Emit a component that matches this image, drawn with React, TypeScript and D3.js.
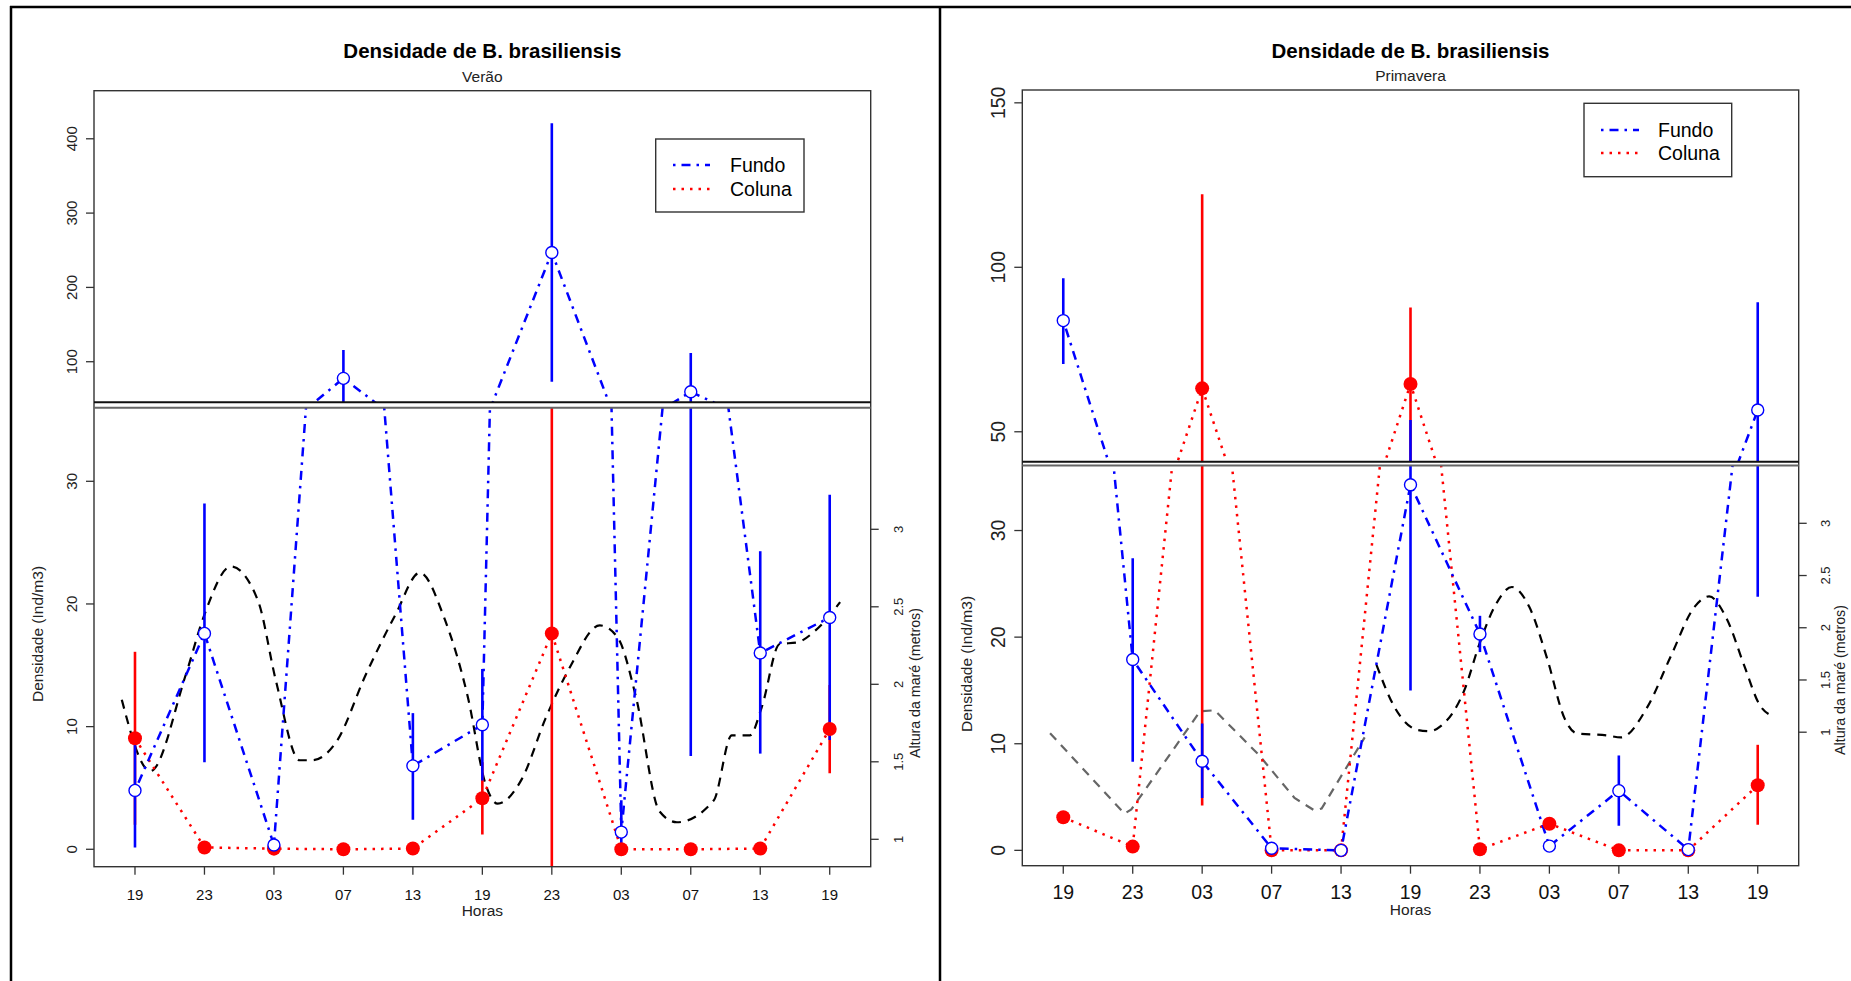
import React from 'react';
import * as d3 from 'd3';

// ---------- data ----------
const hourLabels = ['19', '23', '03', '07', '13', '19', '23', '03', '07', '13', '19'];

// Verão
const veraoFundo = [4.8, 17.6, 0.35, 77.6, 6.8, 10.15, 247, 1.4, 59.6, 16.0, 18.9];
const veraoFundoLo = [0.15, 7.1, 0.35, 39.6, 2.4, 5.6, 73, 0.0, 7.6, 7.8, 8.9];
const veraoFundoHi = [9.4, 28.2, 0.35, 115.7, 11.1, 14.7, 421, 4.0, 111.6, 24.3, 28.9];
const veraoColuna = [9.05, 0.15, 0.05, 0.0, 0.06, 4.16, 17.6, 0.0, 0.0, 0.06, 9.8];
const veraoColunaLo = [2.0, 0.15, 0.05, 0.0, 0.06, 1.2, -7.5, 0.0, 0.0, 0.06, 6.2];
const veraoColunaHi = [16.1, 0.15, 0.05, 0.0, 0.06, 7.1, 42.7, 0.0, 0.0, 0.06, 13.4];
const veraoTidePos = [0.81, 1.22, 1.73, 2.0, 2.38, 2.77, 3.03, 3.37, 3.55, 3.9, 4.32, 4.75, 5.1, 5.45, 5.79, 6.05, 6.22, 6.57, 6.91, 7.26, 7.69, 7.95, 8.21, 8.55, 8.8, 9.33, 9.59, 9.85, 10.02, 10.28, 10.53, 10.8, 11.15];
const veraoTideH = [1.9, 1.44, 2.06, 2.45, 2.76, 2.54, 2.02, 1.51, 1.51, 1.63, 2.06, 2.45, 2.72, 2.43, 1.92, 1.35, 1.23, 1.39, 1.78, 2.11, 2.38, 2.3, 1.92, 1.18, 1.11, 1.25, 1.67, 1.67, 1.85, 2.26, 2.27, 2.35, 2.53];

// Primavera
const primFundo = [83.8, 17.9, 8.36, 0.2, 0.0, 34.3, 20.3, 0.4, 5.6, 0.07, 56.6];
const primFundoLo = [70.6, 8.3, 4.9, 0.2, 0.0, 15.0, 18.6, 0.4, 2.3, 0.07, 23.8];
const primFundoHi = [96.7, 27.4, 11.9, 0.2, 0.0, 53.6, 22.0, 0.4, 8.9, 0.07, 89.4];
const primColuna = [3.1, 0.35, 63.2, 0.0, 0.0, 64.5, 0.1, 2.5, 0.0, 0.0, 6.1];
const primColunaLo = [3.1, 0.35, 4.2, 0.0, 0.0, 41.2, 0.1, 2.5, 0.0, 0.0, 2.4];
const primColunaHi = [3.1, 0.35, 122.2, 0.0, 0.0, 87.8, 0.1, 2.5, 0.0, 0.0, 9.9];
const primTideGreyPos = [0.81, 1.88, 1.98, 2.97, 3.18, 3.82, 4.33, 4.62, 4.72, 5.34];
const primTideGreyH = [0.99, 0.22, 0.26, 1.2, 1.21, 0.78, 0.37, 0.25, 0.27, 0.95];
const primTideBlackPos = [5.51, 5.77, 6.11, 6.28, 6.44, 6.78, 6.99, 7.21, 7.46, 7.71, 7.97, 8.22, 8.39, 8.82, 9.03, 9.41, 9.75, 10.09, 10.3, 10.55, 10.81, 11.02, 11.23];
const primTideBlackH = [1.645, 1.24, 1.02, 1.01, 1.06, 1.41, 1.84, 2.2, 2.39, 2.2, 1.7, 1.13, 0.99, 0.97, 0.95, 1.24, 1.73, 2.2, 2.3, 2.09, 1.63, 1.27, 1.15];

const lowerTicks = [0, 10, 20, 30];
const veraoUpperTicks = [100, 200, 300, 400];
const primUpperTicks = [50, 100, 150];
const tideTicks = [1, 1.5, 2, 2.5, 3];
const tideTickLabels = ['1', '1.5', '2', '2.5', '3'];

// ---------- layout ----------
const FONT = 'Liberation Sans, Arial, Helvetica, sans-serif';
const BLUE = '#0000ff';
const RED = '#ff0000';

type Tide = { pos: number[]; h: number[]; color: string; smooth: boolean };
type Cfg = {
  id: string; title: string; sub: string;
  fundo: number[]; fundoLo: number[]; fundoHi: number[];
  coluna: number[]; colunaLo: number[]; colunaHi: number[];
  tides: Tide[];
  left: number; right: number; top: number; bottom: number;
  loDomain: [number, number]; loTop: number;
  hiDomain: [number, number]; hiBottom: number;
  tideRange: [number, number];
  upperTicks: number[];
  legend: { x: number; y: number; w: number; h: number; y1: number; y2: number; lx1: number; lx2: number; tx: number };
  titleBase: number; subBase: number; xlabBase: number; tickBase: number; tickFont: number;
  yTickX: number; yTickFont: number; ylabX: number; ylabY: number; rTickX: number; rlabX: number; rlabY: number;
};

const panels: Cfg[] = [
  {
    id: 'verao', title: 'Densidade de B. brasiliensis', sub: 'Verão',
    fundo: veraoFundo, fundoLo: veraoFundoLo, fundoHi: veraoFundoHi,
    coluna: veraoColuna, colunaLo: veraoColunaLo, colunaHi: veraoColunaHi,
    tides: [{ pos: veraoTidePos, h: veraoTideH, color: '#000', smooth: true }],
    left: 94, right: 870.7, top: 90.7, bottom: 866.7,
    loDomain: [-1.42, 36.0], loTop: 407.7,
    hiDomain: [45.4, 464.7], hiBottom: 402.3,
    tideRange: [839.3, 529.3],
    upperTicks: veraoUpperTicks,
    legend: { x: 655.7, y: 139, w: 148.3, h: 73, y1: 165, y2: 189, lx1: 673, lx2: 710, tx: 730 },
    titleBase: 58, subBase: 81.5, xlabBase: 916, tickBase: 900, tickFont: 15,
    yTickX: 71, yTickFont: 15, ylabX: 37, ylabY: 634, rTickX: 898, rlabX: 915, rlabY: 683,
  },
  {
    id: 'prim', title: 'Densidade de B. brasiliensis', sub: 'Primavera',
    fundo: primFundo, fundoLo: primFundoLo, fundoHi: primFundoHi,
    coluna: primColuna, colunaLo: primColunaLo, colunaHi: primColunaHi,
    tides: [
      { pos: primTideGreyPos, h: primTideGreyH, color: '#666', smooth: false },
      { pos: primTideBlackPos, h: primTideBlackH, color: '#000', smooth: true },
    ],
    left: 1022.3, right: 1798.7, top: 90, bottom: 865.7,
    loDomain: [-1.44, 36.1], loTop: 465.5,
    hiDomain: [40.9, 153.9], hiBottom: 461.7,
    tideRange: [732.2, 523.3],
    upperTicks: primUpperTicks,
    legend: { x: 1584, y: 103.3, w: 147.7, h: 73.4, y1: 130, y2: 153, lx1: 1601, lx2: 1639, tx: 1658 },
    titleBase: 57.5, subBase: 81, xlabBase: 915, tickBase: 899, tickFont: 19.5,
    yTickX: 997.7, yTickFont: 19.5, ylabX: 966, ylabY: 664, rTickX: 1825.7, rlabX: 1840, rlabY: 680,
  },
];

function Panel({ c }: { c: Cfg }) {
  const x = d3.scaleLinear().domain([0.41, 11.59]).range([c.left, c.right]);
  const yLo = d3.scaleLinear().domain(c.loDomain).range([c.bottom, c.loTop]);
  const yHi = d3.scaleLinear().domain(c.hiDomain).range([c.hiBottom, c.top]);
  const yTide = d3.scaleLinear().domain([1, 3]).range(c.tideRange);
  const idx = c.fundo.map((_, i) => i + 1);

  const section = (ys: d3.ScaleLinear<number, number>, clip: string, withTide: boolean) => {
    const ln = d3.line<number>().x((_, i) => x(idx[i])).y(d => ys(d));
    return (
      <g clipPath={`url(#${clip})`}>
        {withTide && c.tides.map((t, k) => {
          const tl = d3.line<[number, number]>().x(d => x(d[0])).y(d => yTide(d[1]))
            .curve(t.smooth ? d3.curveMonotoneX : d3.curveLinear);
          return (
            <path key={'t' + k} d={tl(t.pos.map((p, i) => [p, t.h[i]]) as [number, number][]) || ''}
              fill="none" stroke={t.color} strokeWidth={2.2} strokeDasharray="9,7" />
          );
        })}
        {c.coluna.map((_, i) => c.colunaHi[i] > c.colunaLo[i] ? (
          <line key={'re' + i} x1={x(idx[i])} x2={x(idx[i])} y1={ys(c.colunaLo[i])} y2={ys(c.colunaHi[i])} stroke={RED} strokeWidth={2.6} />
        ) : null)}
        {c.fundo.map((_, i) => c.fundoHi[i] > c.fundoLo[i] ? (
          <line key={'be' + i} x1={x(idx[i])} x2={x(idx[i])} y1={ys(c.fundoLo[i])} y2={ys(c.fundoHi[i])} stroke={BLUE} strokeWidth={2.6} />
        ) : null)}
        <path d={ln(c.coluna) || ''} fill="none" stroke={RED} strokeWidth={2.5} strokeDasharray="2.5,6" />
        <path d={ln(c.fundo) || ''} fill="none" stroke={BLUE} strokeWidth={2.5} strokeDasharray="2.5,6,9,6" />
        {c.coluna.map((v, i) => (
          <circle key={'rc' + i} cx={x(idx[i])} cy={ys(v)} r={7} fill={RED} />
        ))}
        {c.fundo.map((v, i) => (
          <circle key={'bc' + i} cx={x(idx[i])} cy={ys(v)} r={6} fill="#fff" stroke={BLUE} strokeWidth={1.4} />
        ))}
      </g>
    );
  };

  const cx = (c.left + c.right) / 2;
  const L = c.legend;
  return (
    <g fontFamily={FONT}>
      <defs>
        <clipPath id={`${c.id}-lo`}><rect x={c.left} y={c.loTop} width={c.right - c.left} height={c.bottom - c.loTop} /></clipPath>
        <clipPath id={`${c.id}-hi`}><rect x={c.left} y={c.top} width={c.right - c.left} height={c.hiBottom - c.top} /></clipPath>
      </defs>
      {section(yLo, `${c.id}-lo`, true)}
      {section(yHi, `${c.id}-hi`, false)}

      {/* box and break */}
      <rect x={c.left} y={c.top} width={c.right - c.left} height={c.bottom - c.top} fill="none" stroke="#333" strokeWidth={1.4} />
      <line x1={c.left} x2={c.right} y1={c.hiBottom} y2={c.hiBottom} stroke="#111" strokeWidth={2} />
      <line x1={c.left} x2={c.right} y1={c.loTop} y2={c.loTop} stroke="#666" strokeWidth={2} />

      {/* x axis */}
      {hourLabels.map((h, i) => (
        <g key={'x' + i}>
          <line x1={x(i + 1)} x2={x(i + 1)} y1={c.bottom} y2={c.bottom + 8} stroke="#333" strokeWidth={1.3} />
          <text x={x(i + 1)} y={c.tickBase} textAnchor="middle" fontSize={c.tickFont} fill="#111">{h}</text>
        </g>
      ))}
      <text x={cx} y={c.xlabBase} textAnchor="middle" fontSize={15.5} fill="#222">Horas</text>

      {/* left y axis */}
      {lowerTicks.map(t => (
        <g key={'yl' + t}>
          <line x1={c.left - 8} x2={c.left} y1={yLo(t)} y2={yLo(t)} stroke="#333" strokeWidth={1.3} />
          <text transform={`translate(${c.yTickX},${yLo(t)}) rotate(-90)`} textAnchor="middle" dominantBaseline="central" fontSize={c.yTickFont} fill="#222">{t}</text>
        </g>
      ))}
      {c.upperTicks.map(t => (
        <g key={'yu' + t}>
          <line x1={c.left - 8} x2={c.left} y1={yHi(t)} y2={yHi(t)} stroke="#333" strokeWidth={1.3} />
          <text transform={`translate(${c.yTickX},${yHi(t)}) rotate(-90)`} textAnchor="middle" dominantBaseline="central" fontSize={c.yTickFont} fill="#222">{t}</text>
        </g>
      ))}
      <text transform={`translate(${c.ylabX},${c.ylabY}) rotate(-90)`} textAnchor="middle" dominantBaseline="central" fontSize={15.5} fill="#222">Densidade (Ind/m3)</text>

      {/* right tide axis */}
      {tideTicks.map((t, i) => (
        <g key={'yr' + i}>
          <line x1={c.right} x2={c.right + 8} y1={yTide(t)} y2={yTide(t)} stroke="#333" strokeWidth={1.3} />
          <text transform={`translate(${c.rTickX},${yTide(t)}) rotate(-90)`} textAnchor="middle" dominantBaseline="central" fontSize={13} fill="#222">{tideTickLabels[i]}</text>
        </g>
      ))}
      <text transform={`translate(${c.rlabX},${c.rlabY}) rotate(-90)`} textAnchor="middle" dominantBaseline="central" fontSize={14.2} fill="#222">Altura da maré (metros)</text>

      {/* titles */}
      <text x={cx} y={c.titleBase} textAnchor="middle" fontSize={20.5} fontWeight="bold" fill="#000">{c.title}</text>
      <text x={cx} y={c.subBase} textAnchor="middle" fontSize={15.5} fill="#222">{c.sub}</text>

      {/* legend */}
      <rect x={L.x} y={L.y} width={L.w} height={L.h} fill="#fff" stroke="#333" strokeWidth={1.4} />
      <line x1={L.lx1} x2={L.lx2} y1={L.y1} y2={L.y1} stroke={BLUE} strokeWidth={2.5} strokeDasharray="2.5,6,9,6" />
      <line x1={L.lx1} x2={L.lx2} y1={L.y2} y2={L.y2} stroke={RED} strokeWidth={2.5} strokeDasharray="2.5,6" />
      <text x={L.tx} y={L.y1} dominantBaseline="central" fontSize={19.5} fill="#000">Fundo</text>
      <text x={L.tx} y={L.y2} dominantBaseline="central" fontSize={19.5} fill="#000">Coluna</text>
    </g>
  );
}

export default function App() {
  return (
    <svg width={1851} height={981} style={{ position: 'absolute', left: 0, top: 0, background: '#fff' }}>
      <rect x={0} y={0} width={1851} height={981} fill="#fff" />
      <line x1={10} x2={1851} y1={7} y2={7} stroke="#000" strokeWidth={2.5} />
      <line x1={11} x2={11} y1={6} y2={981} stroke="#000" strokeWidth={2.5} />
      <line x1={940} x2={940} y1={6} y2={981} stroke="#000" strokeWidth={2.5} />
      {panels.map(p => <Panel key={p.id} c={p} />)}
    </svg>
  );
}
